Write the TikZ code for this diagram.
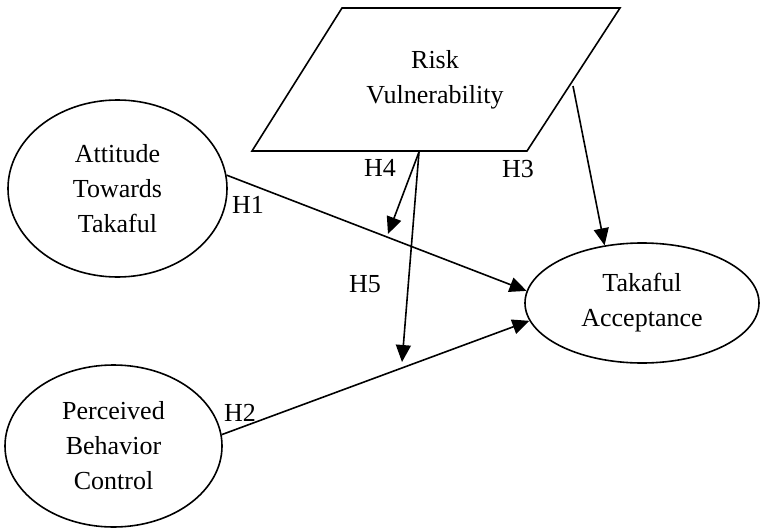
\documentclass[tikz,border=0pt]{standalone}
\usepackage{fontspec}
\setmainfont{Liberation Serif}
\usetikzlibrary{shapes.geometric,arrows.meta}
\tikzset{
  txt/.style={font=\fontsize{26}{35}\selectfont, align=center, inner sep=0pt},
  construct/.style={ellipse, draw, line width=1.6pt, inner sep=0pt, txt},
  link/.style={line width=1.6pt, -{Triangle[length=17pt,width=15pt]}},
  hyp/.style={font=\fontsize{26}{30}\selectfont, inner sep=0pt}
}
\begin{document}
\begin{tikzpicture}[x=1pt,y=-1pt]
\useasboundingbox (0,0) rectangle (760,532);
% Risk vulnerability parallelogram
\coordinate (p1) at (342,8);
\coordinate (p2) at (620,8);
\coordinate (p3) at (527,151);
\coordinate (p4) at (252,151);
\draw[line width=1.6pt, line join=miter] (p1) -- (p2) -- (p3) -- (p4) -- cycle;
\node[txt] (rv) at (435,80) {Risk\\Vulnerability};
% constructs
\node[construct, minimum width=219pt, minimum height=177pt] (att) at (117.5,188.5) {Attitude\\Towards\\Takaful};
\node[construct, minimum width=217pt, minimum height=162pt] (pbc) at (113.5,446) {Perceived\\Behavior\\Control};
\node[construct, minimum width=234pt, minimum height=120pt] (ta) at (642,303) {Takaful\\Acceptance};
% connector end points
\coordinate (h3s) at (573,86);
\coordinate (rvb) at (419,152);
\coordinate (h4t) at (388,234);
\coordinate (h5t) at (402,362);
% connectors
\draw[link] (att.7.3) -- (ta.174.5);
\draw[link] (pbc.6.8) -- (ta.189.6);
\draw[link] (h3s) -- (ta.123);
\draw[link] (rvb) -- (h4t);
\draw[link] (rvb) -- (h5t);
% labels
\node[hyp] (l1) at (248,205) {H1};
\node[hyp] (l2) at (240,413) {H2};
\node[hyp] (l3) at (518,169) {H3};
\node[hyp] (l4) at (380,168) {H4};
\node[hyp] (l5) at (365,284) {H5};
\end{tikzpicture}
\end{document}
